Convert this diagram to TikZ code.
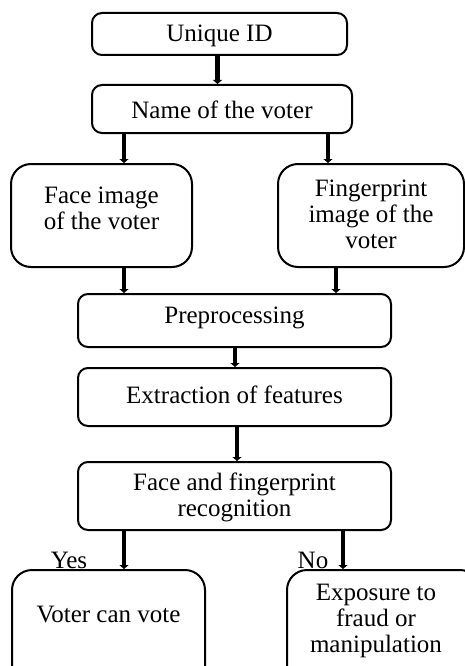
\documentclass[tikz,border=0pt]{standalone}
\usepackage{fontspec}
\setmainfont{Liberation Serif}
\usetikzlibrary{arrows.meta}
\begin{document}
\begin{tikzpicture}[x=1pt,y=-1pt,
  box/.style={draw,line width=2pt,rounded corners=10pt,inner sep=0pt},
  bigbox/.style={box,rounded corners=20pt},
  txt/.style={align=center,inner sep=0pt,font=\fontsize{25}{26}\selectfont},
  arr/.style={line width=4.6pt,-{Triangle[width=9pt,length=4pt]}}]
\useasboundingbox (0,0) rectangle (465,666);
\clip (0,0) rectangle (465,666);
% boxes
\node[box,minimum width=255pt,minimum height=42pt] (uid) at (219.5,34) {};
\node[box,minimum width=260pt,minimum height=48pt] (name) at (222,109) {};
\node[bigbox,minimum width=181pt,minimum height=103pt] (face) at (101.5,215.5) {};
\node[bigbox,minimum width=186pt,minimum height=103pt] (finger) at (371,215.5) {};
\node[box,minimum width=313pt,minimum height=53pt] (pre) at (234.5,320.5) {};
\node[box,minimum width=313pt,minimum height=58pt] (ext) at (234.5,397) {};
\node[box,minimum width=313pt,minimum height=68pt] (rec) at (234.5,496) {};
\node[bigbox,minimum width=193pt,minimum height=120pt] (yes) at (108.5,630) {};
\node[bigbox,minimum width=193pt,minimum height=120pt] (no) at (383.5,630) {};
% texts
\node[txt] (uidt) at (219.5,36) {Unique ID};
\node[txt] (namet) at (222,110) {Name of the voter};
\node[txt] (facet) at (101.5,208) {Face image\\of the voter};
\node[txt] (fingert) at (371,214) {Fingerprint\\image of the\\voter};
\node[txt] (pret) at (234.5,318) {Preprocessing};
\node[txt] (extt) at (234.5,395) {Extraction of features};
\node[txt] (rect) at (234.5,497) {Face and fingerprint\\recognition};
\node[txt] (yest) at (108.5,614) {Voter can vote};
\node[txt] (not) at (376,621) {Exposure to\\fraud or\\manipulation};
\node[txt] (lyes) at (69,560) {Yes};
\node[txt] (lno) at (313,560) {No};
% arrows
\coordinate (a0) at ([xshift=-2pt]uid.south);
\draw[arr] (a0) -- (a0 |- name.north);
\coordinate (a1) at ([xshift=-98pt]name.south);
\draw[arr] (a1) -- (a1 |- face.north);
\coordinate (a2) at ([xshift=106pt]name.south);
\draw[arr] (a2) -- (a2 |- finger.north);
\coordinate (a3) at ([xshift=22.5pt]face.south);
\draw[arr] (a3) -- (a3 |- pre.north);
\coordinate (a4) at ([xshift=-35pt]finger.south);
\draw[arr] (a4) -- (a4 |- pre.north);
\coordinate (a5) at ([xshift=0.5pt]pre.south);
\draw[arr] (a5) -- (a5 |- ext.north);
\coordinate (a6) at ([xshift=2.5pt]ext.south);
\draw[arr] (a6) -- (a6 |- rec.north);
\coordinate (a7) at ([xshift=-110.5pt]rec.south);
\draw[arr] (a7) -- (a7 |- yes.north);
\coordinate (a8) at ([xshift=108.5pt]rec.south);
\draw[arr] (a8) -- (a8 |- no.north);
\end{tikzpicture}
\end{document}
